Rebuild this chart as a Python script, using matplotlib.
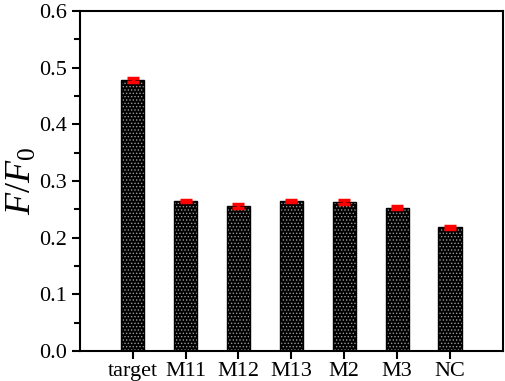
import matplotlib.pyplot as plt
import numpy as np

plt.rcParams['font.family'] = 'Liberation Serif'
plt.rcParams['mathtext.fontset'] = 'custom'
plt.rcParams['mathtext.rm'] = 'Liberation Serif'
plt.rcParams['mathtext.it'] = 'Liberation Serif:italic'
plt.rcParams['hatch.color'] = '#9a9a9a'
plt.rcParams['hatch.linewidth'] = 0.6

labels = ['target', 'M11', 'M12', 'M13', 'M2', 'M3', 'NC']
values = [0.478, 0.265, 0.256, 0.264, 0.263, 0.253, 0.218]
errors = [0.004, 0.002, 0.004, 0.002, 0.004, 0.002, 0.002]

fig = plt.figure(figsize=(5.05, 3.81), dpi=100)
ax = fig.add_axes([0.158, 0.079, 0.838, 0.892])

x = np.arange(len(labels))
ax.bar(x, values, width=0.44, color='black', hatch='.....', zorder=2)
ax.bar(x, values, width=0.44, fill=False, edgecolor='black', linewidth=1.0, zorder=3)
ax.errorbar(x, values, yerr=errors, fmt='none', ecolor='red', elinewidth=2.5,
            capsize=4, capthick=2.5, zorder=4)

ax.set_xlim(-1, 7)
ax.set_ylim(0, 0.6)
ax.set_xticks(x)
ax.set_xticklabels(labels, fontsize=16)
ax.set_yticks(np.arange(0, 0.61, 0.1))
ax.set_yticklabels(['%.1f' % v for v in np.arange(0, 0.61, 0.1)], fontsize=16)
ax.set_yticks(np.arange(0.05, 0.6, 0.1), minor=True)
ax.tick_params(axis='both', direction='out', width=1.5, length=6)
ax.tick_params(axis='y', which='minor', direction='out', width=1.5, length=4)
ax.tick_params(axis='x', pad=2)
for s in ax.spines.values():
    s.set_linewidth(1.5)

ax.set_ylabel('$F/F_0$', fontsize=26, labelpad=0)

fig.savefig('out.png', dpi=100)
